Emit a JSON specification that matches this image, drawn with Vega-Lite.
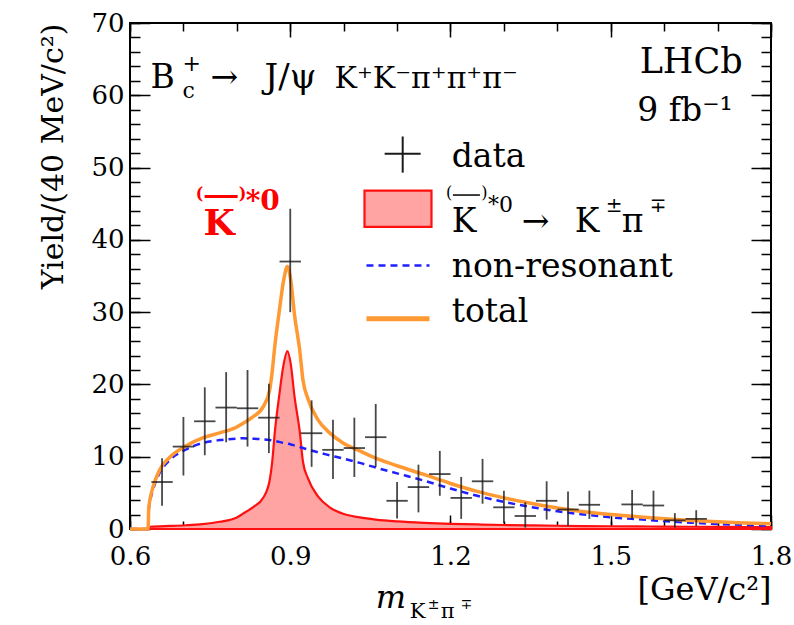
{
  "$schema": "https://vega.github.io/schema/vega-lite/v6.json",
  "width": 641,
  "height": 506,
  "autosize": {"type": "none"},
  "padding": {"left": 130, "top": 23, "right": 23, "bottom": 96},
  "background": "white",
  "config": {
    "font": "DejaVu Serif",
    "view": {"stroke": "black", "strokeWidth": 2},
    "axis": {"labelFont": "DejaVu Serif", "titleFont": "DejaVu Serif", "titleFontWeight": "normal", "labelColor": "black", "titleColor": "black", "tickColor": "black", "tickWidth": 1.5, "grid": false, "domain": false, "labelFlush": false, "labelOverlap": false},
    "text": {"font": "DejaVu Serif", "color": "black"}
  },
  "datasets": {
    "curve": [
      {"m": 0.600, "kst": 0, "nr": 0, "tot": 0},
      {"m": 0.634, "kst": 0, "nr": 0, "tot": 0},
      {"m": 0.635, "kst": 0.3, "nr": 2.5, "tot": 2.8},
      {"m": 0.638, "kst": 0.31, "nr": 4.0, "tot": 4.3},
      {"m": 0.643, "kst": 0.33, "nr": 5.4, "tot": 5.8},
      {"m": 0.655, "kst": 0.37, "nr": 7.7, "tot": 8.1},
      {"m": 0.674, "kst": 0.42, "nr": 9.5, "tot": 9.9},
      {"m": 0.705, "kst": 0.52, "nr": 11.0, "tot": 11.5},
      {"m": 0.736, "kst": 0.68, "nr": 11.9, "tot": 12.6},
      {"m": 0.768, "kst": 1.0, "nr": 12.3, "tot": 13.3},
      {"m": 0.800, "kst": 1.6, "nr": 12.5, "tot": 14.1},
      {"m": 0.811, "kst": 2.1, "nr": 12.55, "tot": 14.6},
      {"m": 0.830, "kst": 3.0, "nr": 12.5, "tot": 15.5},
      {"m": 0.850, "kst": 4.4, "nr": 12.4, "tot": 17.0},
      {"m": 0.8614, "kst": 6.7, "nr": 12.3, "tot": 19.2},
      {"m": 0.8658, "kst": 9.0, "nr": 12.25, "tot": 21.5},
      {"m": 0.8714, "kst": 13.6, "nr": 12.2, "tot": 25.5},
      {"m": 0.8789, "kst": 18.2, "nr": 12.05, "tot": 29.8},
      {"m": 0.8876, "kst": 22.8, "nr": 11.9, "tot": 34.4},
      {"m": 0.8946, "kst": 24.6, "nr": 11.8, "tot": 36.3},
      {"m": 0.9010, "kst": 22.8, "nr": 11.7, "tot": 34.4},
      {"m": 0.9082, "kst": 18.2, "nr": 11.55, "tot": 29.5},
      {"m": 0.9176, "kst": 13.6, "nr": 11.35, "tot": 24.8},
      {"m": 0.9238, "kst": 9.3, "nr": 11.2, "tot": 20.6},
      {"m": 0.9332, "kst": 7.0, "nr": 11.0, "tot": 18.0},
      {"m": 0.9519, "kst": 4.5, "nr": 10.6, "tot": 15.1},
      {"m": 0.9738, "kst": 3.0, "nr": 10.2, "tot": 13.3},
      {"m": 0.9987, "kst": 2.1, "nr": 9.75, "tot": 11.9},
      {"m": 1.03, "kst": 1.6, "nr": 9.15, "tot": 10.8},
      {"m": 1.06, "kst": 1.3, "nr": 8.5, "tot": 9.8},
      {"m": 1.10, "kst": 1.05, "nr": 7.7, "tot": 8.75},
      {"m": 1.15, "kst": 0.85, "nr": 6.7, "tot": 7.55},
      {"m": 1.20, "kst": 0.72, "nr": 5.6, "tot": 6.3},
      {"m": 1.25, "kst": 0.63, "nr": 4.6, "tot": 5.2},
      {"m": 1.30, "kst": 0.55, "nr": 3.75, "tot": 4.3},
      {"m": 1.35, "kst": 0.5, "nr": 3.05, "tot": 3.55},
      {"m": 1.40, "kst": 0.45, "nr": 2.45, "tot": 2.9},
      {"m": 1.45, "kst": 0.41, "nr": 2.0, "tot": 2.4},
      {"m": 1.50, "kst": 0.38, "nr": 1.62, "tot": 2.0},
      {"m": 1.55, "kst": 0.36, "nr": 1.35, "tot": 1.7},
      {"m": 1.60, "kst": 0.33, "nr": 1.1, "tot": 1.43},
      {"m": 1.65, "kst": 0.31, "nr": 0.88, "tot": 1.19},
      {"m": 1.70, "kst": 0.3, "nr": 0.7, "tot": 1.0},
      {"m": 1.75, "kst": 0.28, "nr": 0.56, "tot": 0.84},
      {"m": 1.80, "kst": 0.27, "nr": 0.45, "tot": 0.72}
    ],
    "pts": [
      {"m": 0.66, "xl": 0.64, "xh": 0.68, "y": 6.5, "lo": 3.2, "hi": 9.8},
      {"m": 0.70, "xl": 0.68, "xh": 0.72, "y": 11.4, "lo": 7.4, "hi": 15.5},
      {"m": 0.74, "xl": 0.72, "xh": 0.76, "y": 14.9, "lo": 10.2, "hi": 19.6},
      {"m": 0.78, "xl": 0.76, "xh": 0.80, "y": 16.8, "lo": 12.0, "hi": 21.7},
      {"m": 0.82, "xl": 0.80, "xh": 0.84, "y": 16.7, "lo": 11.4, "hi": 22.0},
      {"m": 0.86, "xl": 0.84, "xh": 0.88, "y": 15.4, "lo": 10.5, "hi": 20.1},
      {"m": 0.90, "xl": 0.88, "xh": 0.92, "y": 37.0, "lo": 30.0, "hi": 44.3},
      {"m": 0.94, "xl": 0.92, "xh": 0.96, "y": 13.25, "lo": 8.6, "hi": 17.8},
      {"m": 0.98, "xl": 0.96, "xh": 1.00, "y": 10.95, "lo": 6.9, "hi": 15.1},
      {"m": 1.02, "xl": 1.00, "xh": 1.04, "y": 11.2, "lo": 7.2, "hi": 15.4},
      {"m": 1.06, "xl": 1.04, "xh": 1.08, "y": 12.7, "lo": 8.6, "hi": 17.3},
      {"m": 1.10, "xl": 1.08, "xh": 1.12, "y": 3.9, "lo": 1.45, "hi": 6.5},
      {"m": 1.14, "xl": 1.12, "xh": 1.16, "y": 5.8, "lo": 2.3, "hi": 8.9},
      {"m": 1.18, "xl": 1.16, "xh": 1.20, "y": 7.6, "lo": 4.6, "hi": 10.8},
      {"m": 1.22, "xl": 1.20, "xh": 1.24, "y": 4.3, "lo": 1.4, "hi": 7.2},
      {"m": 1.26, "xl": 1.24, "xh": 1.28, "y": 6.6, "lo": 3.5, "hi": 9.7},
      {"m": 1.30, "xl": 1.28, "xh": 1.32, "y": 3.0, "lo": 0.8, "hi": 5.3},
      {"m": 1.34, "xl": 1.32, "xh": 1.36, "y": 1.8, "lo": 0.2, "hi": 3.7},
      {"m": 1.38, "xl": 1.36, "xh": 1.40, "y": 3.9, "lo": 1.3, "hi": 6.6},
      {"m": 1.42, "xl": 1.40, "xh": 1.44, "y": 2.7, "lo": 0.4, "hi": 5.2},
      {"m": 1.46, "xl": 1.44, "xh": 1.48, "y": 3.35, "lo": 1.4, "hi": 5.3},
      {"m": 1.54, "xl": 1.52, "xh": 1.56, "y": 3.4, "lo": 1.4, "hi": 5.4},
      {"m": 1.58, "xl": 1.56, "xh": 1.60, "y": 3.25, "lo": 1.2, "hi": 5.3},
      {"m": 1.62, "xl": 1.60, "xh": 1.64, "y": 1.2, "lo": 0.2, "hi": 2.2},
      {"m": 1.66, "xl": 1.64, "xh": 1.68, "y": 1.4, "lo": 0.4, "hi": 2.6}
    ]
  },
  "resolve": {"axis": {"x": "independent", "y": "independent"}},
  "layer": [
    {
      "data": {"name": "curve"},
      "mark": {"type": "area", "interpolate": "monotone", "fill": "#ffa3a3", "stroke": "#ff1010", "strokeWidth": 2.2},
      "encoding": {
        "x": {"field": "m", "type": "quantitative", "scale": {"domain": [0.6, 1.8], "nice": false, "zero": false},
              "axis": {"orient": "bottom", "values": [0.6, 0.9, 1.2, 1.5, 1.8], "format": ".1f", "tickSize": -14, "labelFontSize": 26, "labelPadding": 28, "title": "[GeV/c²]", "titleAnchor": "end", "titleFontSize": 32, "titlePadding": 5}},
        "y": {"field": "kst", "type": "quantitative", "scale": {"domain": [0, 70], "nice": false},
              "axis": {"orient": "left", "values": [0, 10, 20, 30, 40, 50, 60, 70], "tickSize": -20, "labelFontSize": 26, "labelPadding": 26, "title": "Yield/(40 MeV/c²)", "titleAnchor": "end", "titleFontSize": 30, "titlePadding": 22}}
      }
    },
    {
      "data": {"name": "curve"},
      "mark": {"type": "line", "interpolate": "monotone", "color": "#1f1fff", "strokeWidth": 2.5, "strokeDash": [7, 5]},
      "encoding": {
        "x": {"field": "m", "type": "quantitative", "scale": {"domain": [0.6, 1.8], "nice": false, "zero": false},
              "axis": {"orient": "bottom", "values": [0.6, 0.7, 0.8, 0.9, 1.0, 1.1, 1.2, 1.3, 1.4, 1.5, 1.6, 1.7, 1.8], "tickSize": -8, "labels": false, "title": null}},
        "y": {"field": "nr", "type": "quantitative", "scale": {"domain": [0, 70], "nice": false},
              "axis": {"orient": "left", "values": [0, 2, 4, 6, 8, 10, 12, 14, 16, 18, 20, 22, 24, 26, 28, 30, 32, 34, 36, 38, 40, 42, 44, 46, 48, 50, 52, 54, 56, 58, 60, 62, 64, 66, 68, 70], "tickSize": -10, "labels": false, "title": null}}
      }
    },
    {
      "data": {"name": "curve"},
      "mark": {"type": "line", "interpolate": "monotone", "color": "#ff9933", "strokeWidth": 3.5},
      "encoding": {
        "x": {"field": "m", "type": "quantitative", "scale": {"domain": [0.6, 1.8], "nice": false, "zero": false},
              "axis": {"orient": "top", "values": [0.6, 0.9, 1.2, 1.5, 1.8], "tickSize": -14, "labels": false, "title": null}},
        "y": {"field": "tot", "type": "quantitative", "scale": {"domain": [0, 70], "nice": false},
              "axis": {"orient": "right", "values": [0, 10, 20, 30, 40, 50, 60, 70], "tickSize": -20, "labels": false, "title": null}}
      }
    },
    {
      "data": {"name": "pts"},
      "mark": {"type": "rule", "color": "#1a1a1a", "opacity": 0.8, "strokeWidth": 1.8},
      "encoding": {
        "x": {"field": "m", "type": "quantitative", "scale": {"domain": [0.6, 1.8], "nice": false, "zero": false},
              "axis": {"orient": "top", "values": [0.6, 0.7, 0.8, 0.9, 1.0, 1.1, 1.2, 1.3, 1.4, 1.5, 1.6, 1.7, 1.8], "tickSize": -8, "labels": false, "title": null}},
        "y": {"field": "lo", "type": "quantitative", "scale": {"domain": [0, 70], "nice": false},
              "axis": {"orient": "right", "values": [0, 2, 4, 6, 8, 10, 12, 14, 16, 18, 20, 22, 24, 26, 28, 30, 32, 34, 36, 38, 40, 42, 44, 46, 48, 50, 52, 54, 56, 58, 60, 62, 64, 66, 68, 70], "tickSize": -10, "labels": false, "title": null}},
        "y2": {"field": "hi"}
      }
    },
    {
      "data": {"name": "pts"},
      "mark": {"type": "rule", "color": "#1a1a1a", "opacity": 0.8, "strokeWidth": 1.8},
      "encoding": {
        "x": {"field": "xl", "type": "quantitative", "axis": null},
        "x2": {"field": "xh"},
        "y": {"field": "y", "type": "quantitative", "axis": null}
      }
    },
    {"data": {"values": [{}]}, "mark": {"type": "text", "text": "B", "fontSize": 33, "align": "left", "baseline": "alphabetic"},
     "encoding": {"x": {"datum": 0.6386, "type": "quantitative", "axis": null}, "y": {"datum": 61.07, "type": "quantitative", "axis": null}}},
    {"data": {"values": [{}]}, "mark": {"type": "text", "text": "+", "fontSize": 22, "align": "left", "baseline": "alphabetic"},
     "encoding": {"x": {"datum": 0.6985, "type": "quantitative", "axis": null}, "y": {"datum": 63.3, "type": "quantitative", "axis": null}}},
    {"data": {"values": [{}]}, "mark": {"type": "text", "text": "c", "fontSize": 22, "align": "left", "baseline": "alphabetic"},
     "encoding": {"x": {"datum": 0.6985, "type": "quantitative", "axis": null}, "y": {"datum": 59.6, "type": "quantitative", "axis": null}}},
    {"data": {"values": [{}]}, "mark": {"type": "text", "text": "→", "fontSize": 33, "align": "left", "baseline": "alphabetic"},
     "encoding": {"x": {"datum": 0.7509, "type": "quantitative", "axis": null}, "y": {"datum": 61.07, "type": "quantitative", "axis": null}}},
    {"data": {"values": [{}]}, "mark": {"type": "text", "text": "J/ψ", "fontSize": 34, "align": "left", "baseline": "alphabetic"},
     "encoding": {"x": {"datum": 0.852, "type": "quantitative", "axis": null}, "y": {"datum": 61.07, "type": "quantitative", "axis": null}}},
    {"data": {"values": [{}]}, "mark": {"type": "text", "text": "K⁺K⁻π⁺π⁺π⁻", "fontSize": 30, "align": "left", "baseline": "alphabetic"},
     "encoding": {"x": {"datum": 0.983, "type": "quantitative", "axis": null}, "y": {"datum": 61.07, "type": "quantitative", "axis": null}}},
    {"data": {"values": [{}]}, "mark": {"type": "text", "text": "LHCb", "fontSize": 35, "align": "right", "baseline": "alphabetic"},
     "encoding": {"x": {"datum": 1.7468, "type": "quantitative", "axis": null}, "y": {"datum": 63.1, "type": "quantitative", "axis": null}}},
    {"data": {"values": [{}]}, "mark": {"type": "text", "text": "9 fb⁻¹", "fontSize": 33, "align": "right", "baseline": "alphabetic"},
     "encoding": {"x": {"datum": 1.7285, "type": "quantitative", "axis": null}, "y": {"datum": 56.4, "type": "quantitative", "axis": null}}},
    {"data": {"values": [{}]}, "mark": {"type": "rule", "color": "#1a1a1a", "strokeWidth": 2},
     "encoding": {"x": {"datum": 1.1105, "type": "quantitative", "axis": null}, "y": {"datum": 49.3, "type": "quantitative", "axis": null}, "y2": {"datum": 54.3}}},
    {"data": {"values": [{}]}, "mark": {"type": "rule", "color": "#1a1a1a", "strokeWidth": 2},
     "encoding": {"x": {"datum": 1.0767, "type": "quantitative", "axis": null}, "x2": {"datum": 1.1441}, "y": {"datum": 51.9, "type": "quantitative", "axis": null}}},
    {"data": {"values": [{}]}, "mark": {"type": "text", "text": "data", "fontSize": 33, "align": "left", "baseline": "alphabetic"},
     "encoding": {"x": {"datum": 1.2022, "type": "quantitative", "axis": null}, "y": {"datum": 50.1, "type": "quantitative", "axis": null}}},
    {"data": {"values": [{}]}, "mark": {"type": "rect", "fill": "#ffa3a3", "stroke": "#ff1010", "strokeWidth": 2.2},
     "encoding": {"x": {"datum": 1.039, "type": "quantitative", "axis": null}, "x2": {"datum": 1.1644}, "y": {"datum": 41.8, "type": "quantitative", "axis": null}, "y2": {"datum": 46.8}}},
    {"data": {"values": [{}]}, "mark": {"type": "text", "text": "(", "fontSize": 16, "align": "left", "baseline": "alphabetic"},
     "encoding": {"x": {"datum": 1.1914, "type": "quantitative", "axis": null}, "y": {"datum": 45.85, "type": "quantitative", "axis": null}}},
    {"data": {"values": [{}]}, "mark": {"type": "rule", "color": "black", "strokeWidth": 1.5},
     "encoding": {"x": {"datum": 1.2045, "type": "quantitative", "axis": null}, "x2": {"datum": 1.2551}, "y": {"datum": 46.2, "type": "quantitative", "axis": null}}},
    {"data": {"values": [{}]}, "mark": {"type": "text", "text": ")", "fontSize": 16, "align": "left", "baseline": "alphabetic"},
     "encoding": {"x": {"datum": 1.2575, "type": "quantitative", "axis": null}, "y": {"datum": 45.85, "type": "quantitative", "axis": null}}},
    {"data": {"values": [{}]}, "mark": {"type": "text", "text": "K", "fontSize": 33, "align": "left", "baseline": "alphabetic"},
     "encoding": {"x": {"datum": 1.2022, "type": "quantitative", "axis": null}, "y": {"datum": 41.15, "type": "quantitative", "axis": null}}},
    {"data": {"values": [{}]}, "mark": {"type": "text", "text": "*0", "fontSize": 22, "align": "left", "baseline": "alphabetic"},
     "encoding": {"x": {"datum": 1.2700, "type": "quantitative", "axis": null}, "y": {"datum": 43.8, "type": "quantitative", "axis": null}}},
    {"data": {"values": [{}]}, "mark": {"type": "text", "text": "→", "fontSize": 33, "align": "left", "baseline": "alphabetic"},
     "encoding": {"x": {"datum": 1.3333, "type": "quantitative", "axis": null}, "y": {"datum": 41.15, "type": "quantitative", "axis": null}}},
    {"data": {"values": [{}]}, "mark": {"type": "text", "text": "K", "fontSize": 33, "align": "left", "baseline": "alphabetic"},
     "encoding": {"x": {"datum": 1.4326, "type": "quantitative", "axis": null}, "y": {"datum": 41.15, "type": "quantitative", "axis": null}}},
    {"data": {"values": [{}]}, "mark": {"type": "text", "text": "±", "fontSize": 20, "align": "left", "baseline": "alphabetic"},
     "encoding": {"x": {"datum": 1.4906, "type": "quantitative", "axis": null}, "y": {"datum": 43.8, "type": "quantitative", "axis": null}}},
    {"data": {"values": [{}]}, "mark": {"type": "text", "text": "π", "fontSize": 33, "align": "left", "baseline": "alphabetic"},
     "encoding": {"x": {"datum": 1.5206, "type": "quantitative", "axis": null}, "y": {"datum": 41.15, "type": "quantitative", "axis": null}}},
    {"data": {"values": [{}]}, "mark": {"type": "text", "text": "∓", "fontSize": 20, "align": "left", "baseline": "alphabetic"},
     "encoding": {"x": {"datum": 1.573, "type": "quantitative", "axis": null}, "y": {"datum": 43.8, "type": "quantitative", "axis": null}}},
    {"data": {"values": [{}]}, "mark": {"type": "rule", "color": "#1f1fff", "strokeWidth": 2.5, "strokeDash": [7, 5]},
     "encoding": {"x": {"datum": 1.0427, "type": "quantitative", "axis": null}, "x2": {"datum": 1.1607}, "y": {"datum": 36.45, "type": "quantitative", "axis": null}}},
    {"data": {"values": [{}]}, "mark": {"type": "text", "text": "non-resonant", "fontSize": 33, "align": "left", "baseline": "alphabetic"},
     "encoding": {"x": {"datum": 1.2022, "type": "quantitative", "axis": null}, "y": {"datum": 34.9, "type": "quantitative", "axis": null}}},
    {"data": {"values": [{}]}, "mark": {"type": "rule", "color": "#ff9933", "strokeWidth": 5},
     "encoding": {"x": {"datum": 1.0427, "type": "quantitative", "axis": null}, "x2": {"datum": 1.1607}, "y": {"datum": 29.1, "type": "quantitative", "axis": null}}},
    {"data": {"values": [{}]}, "mark": {"type": "text", "text": "total", "fontSize": 33, "align": "left", "baseline": "alphabetic"},
     "encoding": {"x": {"datum": 1.2022, "type": "quantitative", "axis": null}, "y": {"datum": 28.6, "type": "quantitative", "axis": null}}},
    {"data": {"values": [{}]}, "mark": {"type": "text", "text": "(", "fontSize": 16, "fontWeight": "bold", "color": "#ff0000", "align": "left", "baseline": "alphabetic"},
     "encoding": {"x": {"datum": 0.7232, "type": "quantitative", "axis": null}, "y": {"datum": 45.6, "type": "quantitative", "axis": null}}},
    {"data": {"values": [{}]}, "mark": {"type": "rule", "color": "#ff0000", "strokeWidth": 3},
     "encoding": {"x": {"datum": 0.7397, "type": "quantitative", "axis": null}, "x2": {"datum": 0.8015}, "y": {"datum": 46.0, "type": "quantitative", "axis": null}}},
    {"data": {"values": [{}]}, "mark": {"type": "text", "text": ")", "fontSize": 16, "fontWeight": "bold", "color": "#ff0000", "align": "left", "baseline": "alphabetic"},
     "encoding": {"x": {"datum": 0.8035, "type": "quantitative", "axis": null}, "y": {"datum": 45.6, "type": "quantitative", "axis": null}}},
    {"data": {"values": [{}]}, "mark": {"type": "text", "text": "K", "fontSize": 36, "fontWeight": "bold", "color": "#ff0000", "align": "left", "baseline": "alphabetic"},
     "encoding": {"x": {"datum": 0.7378, "type": "quantitative", "axis": null}, "y": {"datum": 40.73, "type": "quantitative", "axis": null}}},
    {"data": {"values": [{}]}, "mark": {"type": "text", "text": "*0", "fontSize": 28, "fontWeight": "bold", "color": "#ff0000", "align": "left", "baseline": "alphabetic"},
     "encoding": {"x": {"datum": 0.8165, "type": "quantitative", "axis": null}, "y": {"datum": 44.1, "type": "quantitative", "axis": null}}},
    {"data": {"values": [{}]}, "mark": {"type": "text", "text": "m", "fontSize": 32, "fontStyle": "italic", "align": "left", "baseline": "alphabetic"},
     "encoding": {"x": {"datum": 1.0599, "type": "quantitative", "axis": null}, "y": {"datum": -10.86, "type": "quantitative", "axis": null}}},
    {"data": {"values": [{}]}, "mark": {"type": "text", "text": "K", "fontSize": 21, "align": "left", "baseline": "alphabetic"},
     "encoding": {"x": {"datum": 1.1236, "type": "quantitative", "axis": null}, "y": {"datum": -12.38, "type": "quantitative", "axis": null}}},
    {"data": {"values": [{}]}, "mark": {"type": "text", "text": "±", "fontSize": 14, "align": "left", "baseline": "alphabetic"},
     "encoding": {"x": {"datum": 1.1573, "type": "quantitative", "axis": null}, "y": {"datum": -11.0, "type": "quantitative", "axis": null}}},
    {"data": {"values": [{}]}, "mark": {"type": "text", "text": "π", "fontSize": 21, "align": "left", "baseline": "alphabetic"},
     "encoding": {"x": {"datum": 1.1816, "type": "quantitative", "axis": null}, "y": {"datum": -12.38, "type": "quantitative", "axis": null}}},
    {"data": {"values": [{}]}, "mark": {"type": "text", "text": "∓", "fontSize": 14, "align": "left", "baseline": "alphabetic"},
     "encoding": {"x": {"datum": 1.2191, "type": "quantitative", "axis": null}, "y": {"datum": -11.0, "type": "quantitative", "axis": null}}}
  ]
}
